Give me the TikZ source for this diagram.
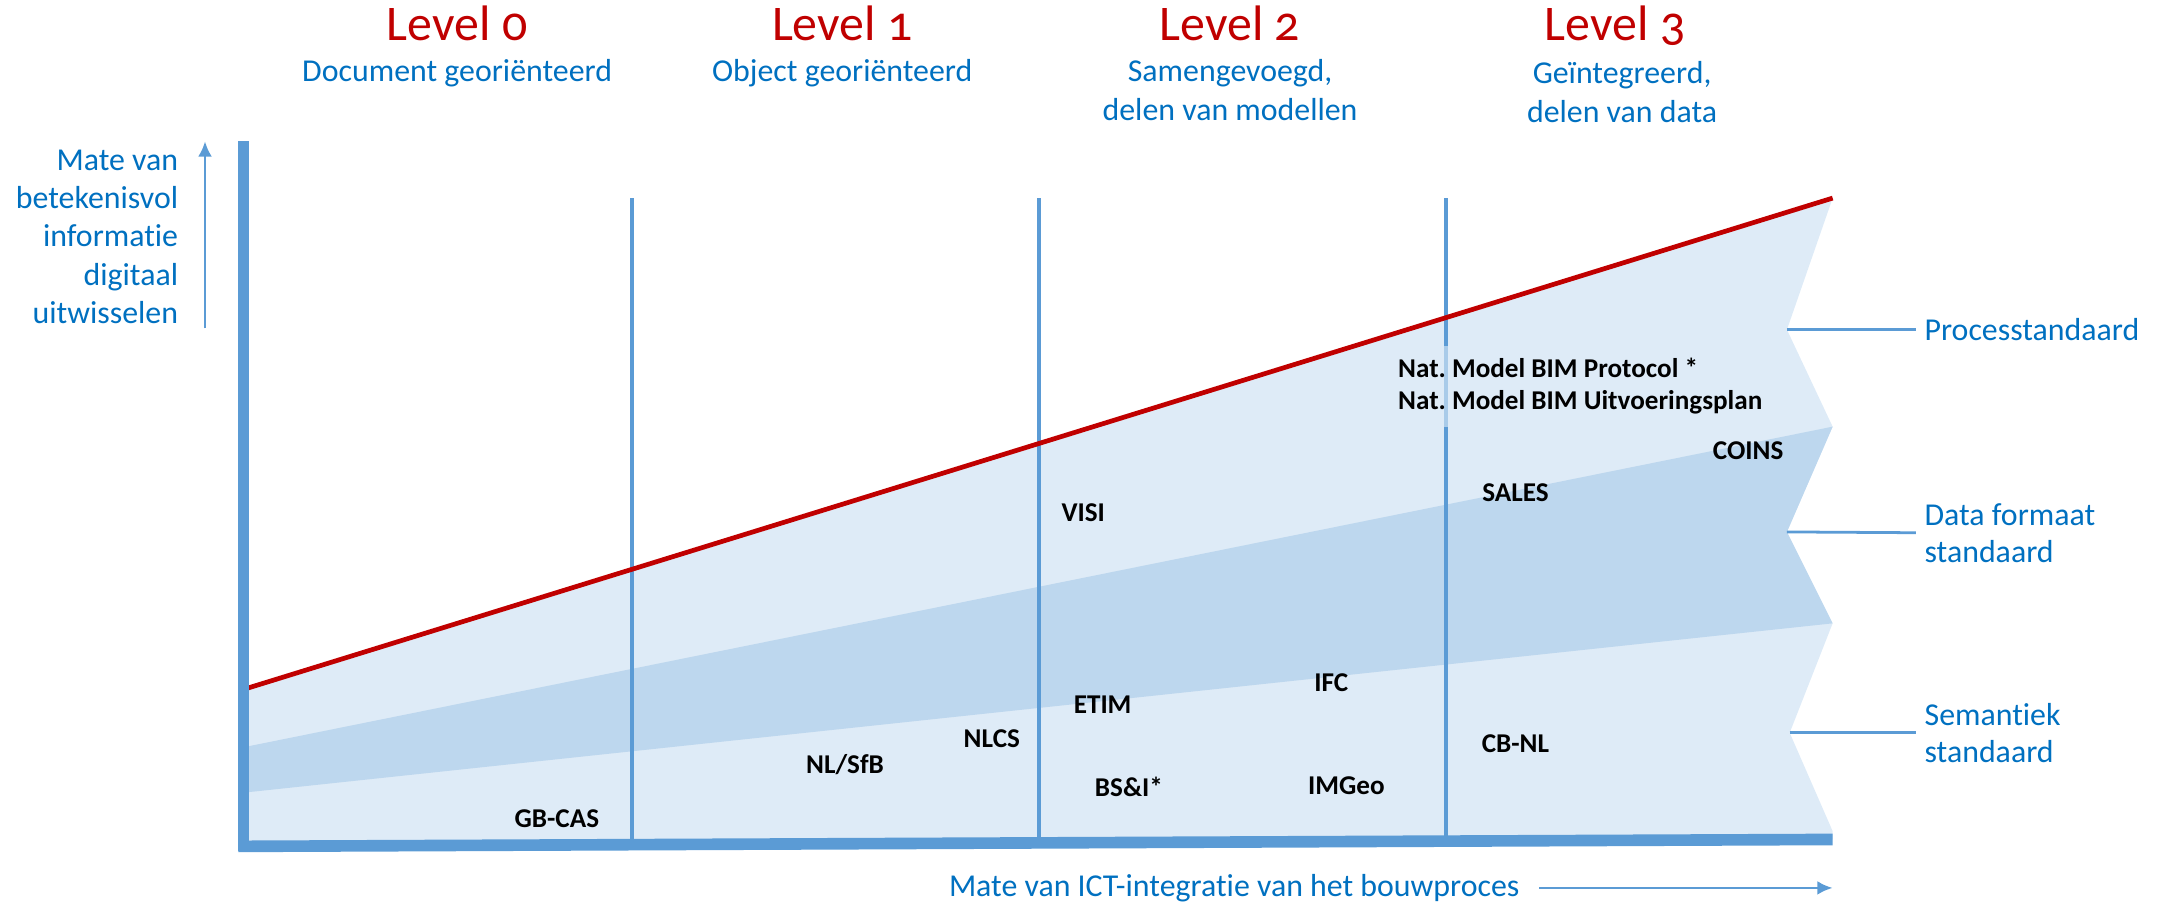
\documentclass[tikz,border=0pt]{standalone}
\usepackage{fontspec}
\setmainfont{Carlito}[Ligatures=NoCommon]
\newfontfamily\kopfont[Numbers=OldStyle]{Carlito}
\usepackage{tikz}
\usetikzlibrary{arrows.meta}
\definecolor{rood}{HTML}{C00000}
\definecolor{tekstblauw}{HTML}{0070C0}
\definecolor{lijnblauw}{HTML}{5B9BD5}
\definecolor{licht}{HTML}{DEEBF7}
\definecolor{donker}{HTML}{BDD7EE}
\frenchspacing
\tikzset{
    levelTitel/.style={text=rood, font=\kopfont\fontsize{18}{20}\selectfont, anchor=base, inner sep=0pt},
    levelTekst/.style={text=tekstblauw, font=\fontsize{11.5}{14}\selectfont, align=center, anchor=base, inner sep=0pt},
    asTekst/.style={text=tekstblauw, font=\fontsize{11.5}{13.8}\selectfont, align=right, anchor=east, inner sep=1pt},
    typeTekst/.style={text=tekstblauw, font=\fontsize{11.5}{13.5}\selectfont, align=left, anchor=west, inner sep=3pt},
    normTekst/.style={font=\bfseries\fontsize{9.8}{11.5}\selectfont, inner sep=1pt},
    pijl/.style={lijnblauw, line width=1pt, -{Latex[length=5.5pt, width=5pt]}},
    verbinding/.style={lijnblauw, line width=1pt},
}
\begin{document}
\begin{tikzpicture}[x=0.5pt, y=-0.5pt]
    % Parameters
    \pgfmathsetmacro{\xlinks}{178}
    \pgfmathsetmacro{\xrechts}{1323}
    \pgfmathsetmacro{\xin}{1290}
    \useasboundingbox (0,0) rectangle (1568,654);
    % Vlakken
    \fill[licht] (\xlinks,497) -- (\xrechts,143) -- (\xin,238) -- (\xrechts,308) -- (\xin,384)
        -- (\xrechts,450) -- (\xin+2,529) -- (\xrechts,600) -- (\xrechts,606) -- (\xlinks,611) -- cycle;
    \fill[donker] (\xlinks,539) -- (\xrechts,308) -- (\xin,384) -- (\xrechts,450) -- (\xlinks,572) -- cycle;
    % Scheidingslijnen
    \foreach \x in {456,750,1044}
        \draw[lijnblauw, line width=1.5pt] (\x,143) -- (\x,608);
    % Rode lijn
    \draw[rood, line width=1.7pt] (\xlinks,497) -- (\xrechts,143);
    % Assen
    \draw[lijnblauw, line width=4pt] (176,102) -- (176,614);
    \draw[lijnblauw, line width=4.2pt] (172,611) -- (\xrechts,606);
    % Levels
    \node[levelTitel] (level0) at (330,29.5) {Level 0};
    \node[levelTitel] (level1) at (608,29.5) {Level 1};
    \node[levelTitel] (level2) at (888,29.5) {Level 2};
    \node[levelTitel] (level3) at (1166,29.5) {Level 3};
    \node[levelTekst] (tekst0) at (330,59) {Document georiënteerd};
    \node[levelTekst] (tekst1) at (608,59) {Object georiënteerd};
    \node[levelTekst] (tekst2) at (888,87) {Samengevoegd,\\delen van modellen};
    \node[levelTekst] (tekst3) at (1171,88.5) {Geïntegreerd,\\delen van data};
    % Assen: labels
    \node[asTekst] (yLabel) at (131,171) {Mate van\\betekenisvol\\informatie\\digitaal\\uitwisselen};
    \coordinate (yVan) at (148,237);
    \coordinate (yNaar) at (148,102);
    \draw[pijl] (yVan) -- (yNaar);
    \node[asTekst, anchor=center] (xLabel) at (891,641) {Mate van ICT-integratie van het bouwproces};
    \coordinate (xNaar) at (\xrechts,641);
    \draw[pijl, shorten <=6pt] (xLabel) -- (xNaar);
    % Standaarden
    \coordinate (procPunt) at (\xin,238);
    \coordinate (dataPunt) at (\xin,384);
    \coordinate (semPunt) at (\xin+2,529);
    \node[typeTekst] (proces) at (1383,238) {Processtandaard};
    \node[typeTekst] (data) at (1383,385) {Data formaat\\standaard};
    \node[typeTekst] (semantiek) at (1383,529) {Semantiek\\standaard};
    \draw[verbinding] (procPunt) -- (proces);
    \draw[verbinding] (dataPunt) -- (data);
    \draw[verbinding] (semPunt) -- (semantiek);
    % Normen
    \node[normTekst, align=left, anchor=west, inner xsep=2pt, inner ysep=4.5pt, fill=licht, fill opacity=0.6, text opacity=1]
        (natModel) at (1005,279) {Nat. Model BIM Protocol *\\Nat. Model BIM Uitvoeringsplan};
    \node[normTekst] (coins) at (1262,325) {COINS};
    \node[normTekst] (sales) at (1094,356) {SALES};
    \node[normTekst] (visi) at (782,370) {VISI};
    \node[normTekst] (ifc) at (961,493) {IFC};
    \node[normTekst] (etim) at (796,509) {ETIM};
    \node[normTekst] (nlcs) at (716,533) {NLCS};
    \node[normTekst] (cbnl) at (1094,537) {CB-NL};
    \node[normTekst] (nlsfb) at (610,552) {NL/SfB};
    \node[normTekst] (bsi) at (815,568) {BS\&I*};
    \node[normTekst] (imgeo) at (972,567) {IMGeo};
    \node[normTekst] (gbcas) at (402,591) {GB-CAS};
\end{tikzpicture}
\end{document}
